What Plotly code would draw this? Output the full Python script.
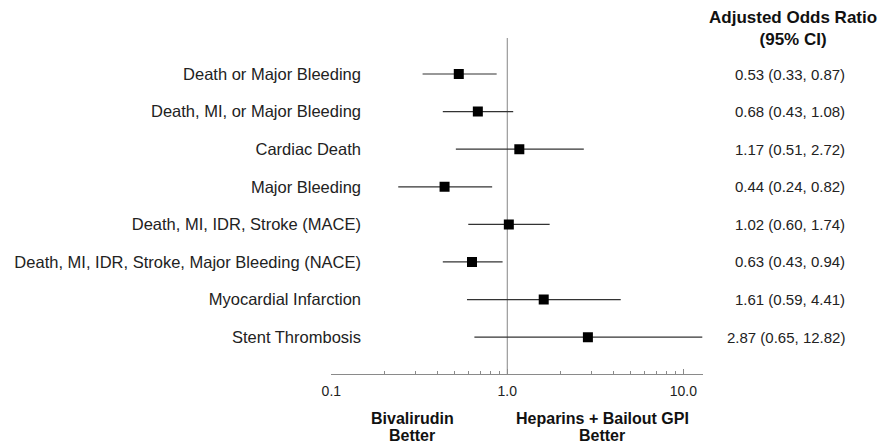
import plotly.graph_objects as go

outcomes = [
    "Death or Major Bleeding",
    "Death, MI, or Major Bleeding",
    "Cardiac Death",
    "Major Bleeding",
    "Death, MI, IDR, Stroke (MACE)",
    "Death, MI, IDR, Stroke, Major Bleeding (NACE)",
    "Myocardial Infarction",
    "Stent Thrombosis",
]
odds_ratio = [0.53, 0.68, 1.17, 0.44, 1.02, 0.63, 1.61, 2.87]
ci_low = [0.33, 0.43, 0.51, 0.24, 0.60, 0.43, 0.59, 0.65]
ci_high = [0.87, 1.08, 2.72, 0.82, 1.74, 0.94, 4.41, 12.82]

major_ticks = [0.1, 1, 10]
major_labels = ["0.1", "1.0", "10.0"]
minor_ticks = [0.2, 0.3, 0.4, 0.5, 0.6, 0.7, 0.8, 0.9, 2, 3, 4, 5, 6, 7, 8, 9]

W, H = 886, 444
FONT = "Liberation Sans, Arial, Helvetica, sans-serif"
rows = list(range(len(outcomes)))
y_top, y_bottom = -0.958, 7.98

fig = go.Figure()

# reference line at OR = 1
fig.add_trace(go.Scatter(
    x=[1, 1], y=[y_top, y_bottom], mode="lines",
    line=dict(color="#9a9a9a", width=1.2), hoverinfo="skip", showlegend=False,
))

fig.add_trace(go.Scatter(
    x=odds_ratio, y=rows, mode="markers",
    marker=dict(symbol="square", size=10, color="black"),
    error_x=dict(
        type="data", symmetric=False,
        array=[h - o for h, o in zip(ci_high, odds_ratio)],
        arrayminus=[o - l for o, l in zip(odds_ratio, ci_low)],
        color="#333333", thickness=1.2, width=0,
    ),
    showlegend=False,
))

annotations = []
for i, (o, l, h) in enumerate(zip(odds_ratio, ci_low, ci_high)):
    annotations.append(dict(
        x=847 / W, xref="paper", y=i, yref="y", xanchor="right", yanchor="middle",
        text=f"{o:.2f} ({l:.2f}, {h:.2f})", showarrow=False,
        font=dict(family=FONT, size=15, color="#222222"),
    ))

annotations.append(dict(
    x=792 / W, xref="paper", y=1 - 28 / H, yref="paper", xanchor="center", yanchor="middle",
    text="<b>Adjusted Odds Ratio<br>(95% CI)</b>", showarrow=False, align="center",
    font=dict(family=FONT, size=17, color="#111111"),
))

footer = [
    (407, 418, "Bivalirudin"), (407, 435, "Better"),
    (599, 418, "Heparins + Bailout GPI"), (599, 435, "Better"),
]
for fx, fy, ft in footer:
    annotations.append(dict(
        x=fx / W, xref="paper", y=1 - fy / H, yref="paper", xanchor="center", yanchor="middle",
        text=f"<b>{ft}</b>", showarrow=False,
        font=dict(family=FONT, size=16, color="#111111"),
    ))

fig.update_layout(
    width=W, height=H,
    margin=dict(l=0, r=0, t=0, b=0),
    paper_bgcolor="white", plot_bgcolor="white",
    font=dict(family=FONT, color="#222222"),
    annotations=annotations,
    xaxis=dict(
        type="log", range=[-1, 1.1124],
        domain=[325 / W, 701 / W],
        showgrid=False, zeroline=False,
        showline=True, linecolor="#8a8a8a", linewidth=1.2,
        tickvals=major_ticks, ticktext=major_labels,
        ticks="inside", ticklen=5, tickcolor="#8a8a8a", tickwidth=1,
        ticklabelstandoff=4,
        tickfont=dict(family=FONT, size=14, color="#222222"),
        minor=dict(tickvals=minor_ticks, ticks="inside", ticklen=3,
                   tickcolor="#8a8a8a", tickwidth=1, showgrid=False),
    ),
    yaxis=dict(
        range=[y_bottom, y_top],
        domain=[1 - 374 / H, 1 - 38 / H],
        anchor="free", position=355 / W,
        showgrid=False, zeroline=False, showline=False,
        tickvals=rows, ticktext=outcomes, ticks="",
        tickfont=dict(family=FONT, size=16.5, color="#222222"),
    ),
)

fig.write_html(
    "out.html",
    config={"displayModeBar": False},
    post_script="document.body.style.margin='0';document.body.style.overflow='hidden';",
)
